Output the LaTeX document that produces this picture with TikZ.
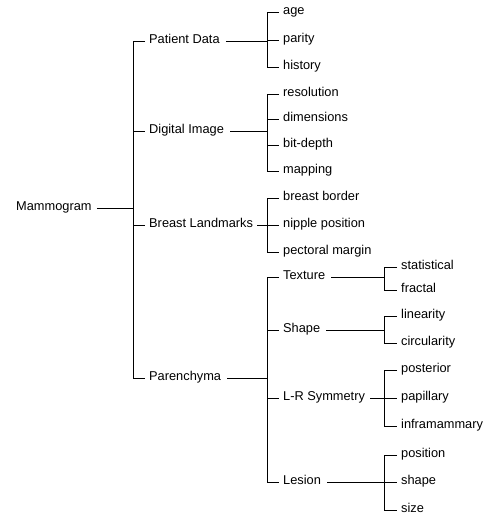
\documentclass[tikz,border=0pt]{standalone}
\usepackage{fontspec}
\setmainfont{Liberation Sans}
\begin{document}
\begin{tikzpicture}[x=1pt,y=-1pt,
  lab/.style={anchor=mid west, inner sep=0pt, font=\fontsize{12.8}{14}\selectfont},
  ln/.style={line width=0.75pt, black}]
\useasboundingbox (0,0) rectangle (487,517);
% bars
\coordinate (b1) at (133,0);
\coordinate (b2) at (267,0);
\coordinate (b3) at (384,0);
% root and level 1
\node[lab] (mam) at (16,208) {Mammogram};
\node[lab] (pd) at (149,41) {Patient Data};
\node[lab] (di) at (149,131) {Digital Image};
\node[lab] (bl) at (149,225) {Breast Landmarks};
\node[lab] (pa) at (149,378) {Parenchyma};
% leaves of patient data
\node[lab] (age) at (283,12) {age};
\node[lab] (par) at (283,40) {parity};
\node[lab] (his) at (283,67) {history};
% digital image
\node[lab] (res) at (283,94) {resolution};
\node[lab] (dim) at (283,119) {dimensions};
\node[lab] (bit) at (283,145) {bit-depth};
\node[lab] (map) at (283,171) {mapping};
% breast landmarks
\node[lab] (bb) at (283,198) {breast border};
\node[lab] (np) at (283,225) {nipple position};
\node[lab] (pm) at (283,252) {pectoral margin};
% parenchyma
\node[lab] (tex) at (283,277) {Texture};
\node[lab] (sha) at (283,330) {Shape};
\node[lab] (lrs) at (283,398) {L-R Symmetry};
\node[lab] (les) at (283,482) {Lesion};
% level 3
\node[lab] (sta) at (401,267) {statistical};
\node[lab] (fra) at (401,290) {fractal};
\node[lab] (lin) at (401,316) {linearity};
\node[lab] (cir) at (401,343) {circularity};
\node[lab] (pos) at (401,370) {posterior};
\node[lab] (pap) at (401,398) {papillary};
\node[lab] (inf) at (401,426) {inframammary};
\node[lab] (lpo) at (401,455) {position};
\node[lab] (lsh) at (401,482) {shape};
\node[lab] (lsi) at (401,510) {size};
% connectors root
\draw[ln] ([xshift=5pt]mam.mid east) -- (mam.mid east -| b1);
\draw[ln] ([xshift=-4pt]pd.mid west) -| (b1 |- pa.mid west) -- ([xshift=-4pt]pa.mid west);
\draw[ln] (b1 |- di.mid west) -- ([xshift=-4pt]di.mid west);
\draw[ln] (b1 |- bl.mid west) -- ([xshift=-4pt]bl.mid west);
% patient data
\draw[ln] ([xshift=6pt]pd.mid east) -- (pd.mid east -| b2);
\draw[ln] ([xshift=-4pt]age.mid west) -| (b2 |- his.mid west) -- ([xshift=-4pt]his.mid west);
\draw[ln] (b2 |- par.mid west) -- ([xshift=-4pt]par.mid west);
% digital image
\draw[ln] ([xshift=6pt]di.mid east) -- (di.mid east -| b2);
\draw[ln] ([xshift=-4pt]res.mid west) -| (b2 |- map.mid west) -- ([xshift=-4pt]map.mid west);
\draw[ln] (b2 |- dim.mid west) -- ([xshift=-4pt]dim.mid west);
\draw[ln] (b2 |- bit.mid west) -- ([xshift=-4pt]bit.mid west);
% breast landmarks
\draw[ln] ([xshift=4pt]bl.mid east) -- (bl.mid east -| b2);
\draw[ln] ([xshift=-4pt]bb.mid west) -| (b2 |- pm.mid west) -- ([xshift=-4pt]pm.mid west);
\draw[ln] (b2 |- np.mid west) -- ([xshift=-4pt]np.mid west);
% parenchyma
\draw[ln] ([xshift=6pt]pa.mid east) -- (pa.mid east -| b2);
\draw[ln] ([xshift=-4pt]tex.mid west) -| (b2 |- les.mid west) -- ([xshift=-4pt]les.mid west);
\draw[ln] (b2 |- sha.mid west) -- ([xshift=-4pt]sha.mid west);
\draw[ln] (b2 |- lrs.mid west) -- ([xshift=-4pt]lrs.mid west);
% texture
\draw[ln] ([xshift=6pt]tex.mid east) -- (tex.mid east -| b3);
\draw[ln] ([xshift=-4pt]sta.mid west) -| (b3 |- fra.mid west) -- ([xshift=-4pt]fra.mid west);
% shape
\draw[ln] ([xshift=6pt]sha.mid east) -- (sha.mid east -| b3);
\draw[ln] ([xshift=-4pt]lin.mid west) -| (b3 |- cir.mid west) -- ([xshift=-4pt]cir.mid west);
% L-R symmetry
\draw[ln] ([xshift=5pt]lrs.mid east) -- (lrs.mid east -| b3);
\draw[ln] ([xshift=-4pt]pos.mid west) -| (b3 |- inf.mid west) -- ([xshift=-4pt]inf.mid west);
\draw[ln] (b3 |- pap.mid west) -- ([xshift=-4pt]pap.mid west);
% lesion
\draw[ln] ([xshift=6pt]les.mid east) -- (les.mid east -| b3);
\draw[ln] ([xshift=-4pt]lpo.mid west) -| (b3 |- lsi.mid west) -- ([xshift=-4pt]lsi.mid west);
\draw[ln] (b3 |- lsh.mid west) -- ([xshift=-4pt]lsh.mid west);
\end{tikzpicture}
\end{document}
